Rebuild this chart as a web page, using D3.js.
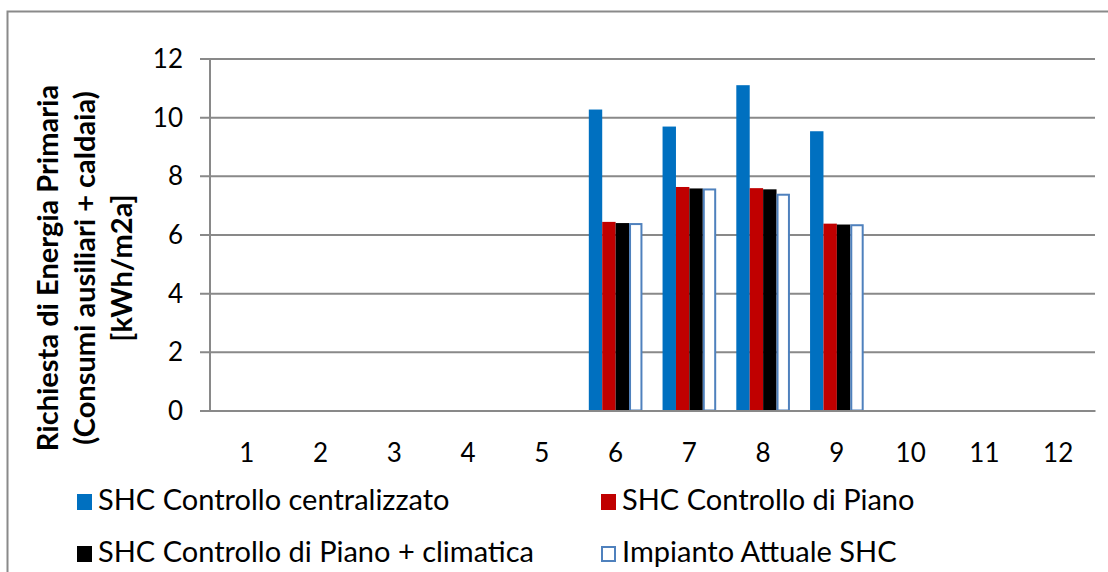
<!DOCTYPE html>
<html>
<head>
<meta charset="utf-8">
<script src="https://cdn.jsdelivr.net/npm/d3@7"></script>
<style>
  html, body { margin: 0; padding: 0; background: #fff; }
  svg { display: block; }
  text { font-family: Lato, "Open Sans", sans-serif; fill: #000; }
</style>
</head>
<body>
<svg id="chart" width="1108" height="572"></svg>
<script>
// Monthly primary energy demand per control strategy [kWh/m2a]
const months = ["1", "2", "3", "4", "5", "6", "7", "8", "9", "10", "11", "12"];
const seriesNames = [
  "SHC Controllo centralizzato",
  "SHC Controllo di Piano",
  "SHC Controllo di Piano + climatica",
  "Impianto Attuale SHC"
];
const centralizzato = [null, null, null, null, null, 10.26, 9.68, 11.09, 9.52, null, null, null];
const controlloPiano = [null, null, null, null, null, 6.43, 7.62, 7.58, 6.37, null, null, null];
const pianoClimatica = [null, null, null, null, null, 6.39, 7.57, 7.54, 6.34, null, null, null];
const impiantoAttuale = [null, null, null, null, null, 6.39, 7.57, 7.39, 6.35, null, null, null];
const yTicks = [0, 2, 4, 6, 8, 10, 12];
const yTitleLines = ["Richiesta di Energia Primaria", "(Consumi ausiliari + caldaia)", "[kWh/m2a]"];

const seriesValues = [centralizzato, controlloPiano, pianoClimatica, impiantoAttuale];
const fills = ["#0070C0", "#C00000", "#000000", "#FFFFFF"];
const strokes = ["none", "none", "none", "#4F81BD"];

const svg = d3.select("#chart");

// chart area border (only its top and left edges fall inside the page)
svg.append("rect")
  .attr("x", 7.5).attr("y", 11.5)
  .attr("width", 1200).attr("height", 700)
  .attr("fill", "none").attr("stroke", "#8a8a8a").attr("stroke-width", 2);

const plot = { left: 210, right: 1095, top: 58.5, bottom: 410.5 };

const x = d3.scaleBand().domain(months).range([plot.left, plot.right]).padding(0);
const y = d3.scaleLinear().domain([0, 12]).range([plot.bottom, plot.top]);

// cluster layout: gap between clusters is 150% of one bar width
const barW = x.bandwidth() / (seriesNames.length + 1.5);
const xs = d3.scaleBand().domain(d3.range(seriesNames.length))
  .range([0, barW * seriesNames.length]);
const clusterOffset = (x.bandwidth() - barW * seriesNames.length) / 2;

// horizontal gridlines with short outward ticks
const yAxis = d3.axisLeft(y).tickValues(yTicks).tickSize(0).tickFormat(d3.format("d"));
const gy = svg.append("g").attr("transform", `translate(${plot.left},0)`).call(yAxis);
gy.select(".domain").remove();
gy.selectAll(".tick text")
  .attr("x", -27)
  .attr("dy", "0.35em")
  .style("font-size", "26px")
  .style("font-family", "Lato, 'Open Sans', sans-serif")
  .attr("fill", "#000");
gy.selectAll(".tick line").remove();
gy.selectAll(".tick").append("line")
  .attr("x1", -10).attr("x2", plot.right - plot.left)
  .attr("stroke", "#898989").attr("stroke-width", 2);

// vertical axis line
svg.append("line")
  .attr("x1", plot.left).attr("x2", plot.left)
  .attr("y1", plot.top).attr("y2", plot.bottom)
  .attr("stroke", "#898989").attr("stroke-width", 2);

// bars
seriesValues.forEach((vals, si) => {
  const data = months.map((m, i) => ({ m, v: vals[i] })).filter(d => d.v != null);
  const isOutline = strokes[si] !== "none";
  svg.append("g").selectAll("rect").data(data).join("rect")
    .attr("x", d => x(d.m) + clusterOffset + xs(si) + (isOutline ? 1 : 0))
    .attr("y", d => y(d.v) + (isOutline ? 1 : 0))
    .attr("width", barW - (isOutline ? 2 : 0))
    .attr("height", d => y(0) - y(d.v) - (isOutline ? 1 : 0))
    .attr("fill", fills[si])
    .attr("stroke", strokes[si])
    .attr("stroke-width", isOutline ? 2 : 0);
});

// category axis
const xAxis = d3.axisBottom(x).tickSize(0).tickSizeOuter(0);
const gx = svg.append("g").attr("transform", `translate(0,${plot.bottom})`).call(xAxis);
gx.select(".domain").attr("stroke", "#898989").attr("stroke-width", 2);
gx.selectAll(".tick text")
  .attr("y", 51)
  .attr("dy", 0)
  .style("font-size", "26px")
  .style("font-family", "Lato, 'Open Sans', sans-serif")
  .attr("fill", "#000");

// vertical axis title, three rotated lines
const titleG = svg.append("g")
  .attr("transform", `translate(0,268) rotate(-90)`);
titleG.selectAll("text").data(yTitleLines).join("text")
  .attr("x", 0)
  .attr("y", (d, i) => 58 + i * 37)
  .attr("text-anchor", "middle")
  .style("font-size", "29px")
  .style("font-weight", "bold")
  .text(d => d);

// legend, two columns by two rows
const legendPos = [
  { mx: 77, ty: 510 }, { mx: 601, ty: 510 },
  { mx: 77, ty: 562 }, { mx: 601, ty: 562 }
];
const lg = svg.append("g");
seriesNames.forEach((name, i) => {
  const p = legendPos[i];
  const isOutline = strokes[i] !== "none";
  lg.append("rect")
    .attr("x", p.mx + (isOutline ? 1 : 0))
    .attr("y", p.ty - 16 + (isOutline ? 1 : 0))
    .attr("width", 15 - (isOutline ? 2 : 0))
    .attr("height", 16 - (isOutline ? 2 : 0))
    .attr("fill", fills[i])
    .attr("stroke", strokes[i])
    .attr("stroke-width", isOutline ? 2 : 0);
  lg.append("text")
    .attr("x", p.mx + 21)
    .attr("y", p.ty)
    .style("font-size", "29px")
    .text(name);
});
</script>
</body>
</html>
